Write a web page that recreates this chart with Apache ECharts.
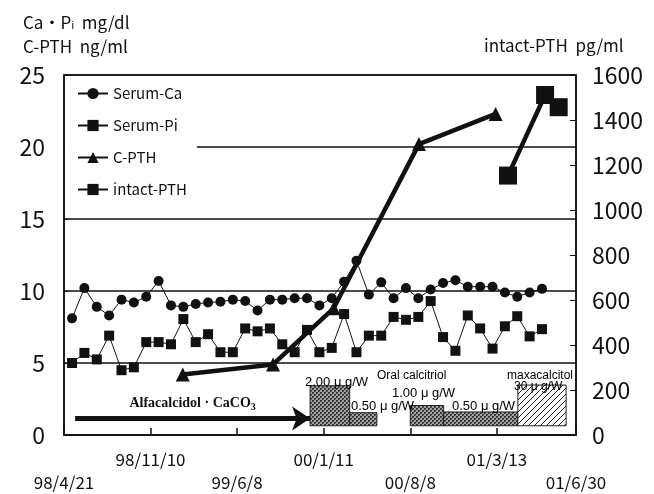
<!DOCTYPE html>
<html><head><meta charset="utf-8">
<script src="https://cdn.jsdelivr.net/npm/echarts@6/dist/echarts.min.js"></script>
<style>html,body{margin:0;padding:0;background:#fff}#c{width:654px;height:494px}</style>
</head><body><div id="c"></div>
<script>
// ---- data ----
const xTickLabels = ['98/4/21','98/11/10','99/6/8','00/1/11','00/8/8','01/3/13','01/6/30'];
const sampleOffset = 0.65;   // monthly samples sit inside each month slot
const serumCa = [8.1, 10.2, 8.9, 8.3, 9.4, 9.2, 9.6, 10.7, 9.0, 8.9, 9.1, 9.2, 9.25, 9.4, 9.3, 8.65, 9.4, 9.4, 9.5, 9.5,
                 9.0, 9.5, 10.65, 12.1, 9.75, 10.6, 9.5, 10.2, 9.5, 10.1, 10.55, 10.75, 10.3, 10.3, 10.3, 9.9, 9.6, 9.9, 10.15];
const serumPi = [5.0, 5.7, 5.25, 6.9, 4.5, 4.7, 6.45, 6.45, 6.3, 8.05, 6.45, 7.0, 5.75, 5.75, 7.4, 7.2, 7.4, 6.3, 5.75, 7.3,
                 5.75, 6.05, 8.4, 5.75, 6.9, 6.9, 8.2, 8.0, 8.2, 9.3, 6.8, 5.85, 8.3, 7.4, 6.0, 7.55, 8.25, 6.85, 7.35];
const cpthMonth = [9.6, 16.9, 21.8, 28.7, 34.9];
const cpthValue = [4.2, 4.9, 8.8, 20.2, 22.3];
const intactMonth = [35.9, 38.9, 40.0];
const intactValue = [1153, 1511, 1457];
// treatment blocks (x in months, top in left-axis units)
const doseStart = [19.9, 23.1, 28.0, 30.7, 36.7];
const doseEnd   = [23.1, 25.3, 30.7, 36.7, 40.6];
const doseTop   = [3.42, 1.55, 2.05, 1.6, 3.47];
const doseFill  = ['check', 'check', 'check', 'check', 'hatch'];
const doseBase  = 0.64;
const arrowFrom = 0.9, arrowTo = 19.9, arrowLevel = 1.14;

// ---- patterns ----
function checkPattern(){
  const c = document.createElement('canvas'); c.width = 4; c.height = 4;
  const g = c.getContext('2d');
  g.fillStyle = '#a0a0a0'; g.fillRect(0,0,4,4);
  g.fillStyle = '#333'; g.fillRect(0,0,2,2); g.fillRect(2,2,2,2);
  g.fillStyle = '#666'; g.fillRect(1,1,1,1); g.fillRect(3,3,1,1);
  return c;
}
function hatchPattern(){
  const c = document.createElement('canvas'); c.width = 6; c.height = 6;
  const g = c.getContext('2d');
  g.fillStyle = '#fff'; g.fillRect(0,0,6,6);
  g.strokeStyle = '#222'; g.lineWidth = 1;
  g.beginPath(); g.moveTo(-1,7); g.lineTo(7,-1); g.stroke();
  g.beginPath(); g.moveTo(-4,4); g.lineTo(4,-4); g.stroke();
  g.beginPath(); g.moveTo(2,10); g.lineTo(10,2); g.stroke();
  return c;
}
const fills = { check: { image: checkPattern(), repeat: 'repeat' }, hatch: { image: hatchPattern(), repeat: 'repeat' } };

const FONT = '"Noto Sans CJK JP", "Liberation Sans", sans-serif';
const INK = '#111';
function note(x, y, text, size) {
  return { type: 'text', x: x, y: y, z: 10,
    style: { text: text, font: size + 'px "Liberation Sans", Arial, sans-serif', fill: '#000', verticalAlign: 'middle' } };
}

const chart = echarts.init(document.getElementById('c'), null, { renderer: 'canvas' });
chart.setOption({
  animation: false,
  backgroundColor: '#fff',
  title: [
    { text: '{n|Ca・P}{s|i}{n|  mg/dl}\n{n|C-PTH  ng/ml}', left: 18, top: 6,
      textStyle: { fontWeight: 'normal', rich: {
        n: { fontSize: 17, fontWeight: 'normal', fontFamily: FONT, color: INK, lineHeight: 24 },
        s: { fontSize: 11, fontWeight: 'normal', fontFamily: FONT, color: INK, lineHeight: 24, padding: [4,0,0,0] } } } },
    { text: 'intact-PTH  pg/ml', left: 479, top: 32,
      textStyle: { fontSize: 17, fontWeight: 'normal', fontFamily: FONT, color: INK } }
  ],
  grid: { left: 64, right: 78, top: 75, bottom: 54, show: true, borderColor: INK, borderWidth: 1.5, backgroundColor: 'transparent' },
  legend: {
    data: ['Serum-Ca', 'Serum-Pi', 'C-PTH', 'intact-PTH'],
    orient: 'vertical', left: 65, top: 77,
    itemWidth: 30, itemHeight: 14, itemGap: 17,
    backgroundColor: '#fff', padding: [9, 10, 8, 12],
    textStyle: { fontSize: 15, fontFamily: FONT, color: INK }
  },
  xAxis: {
    type: 'value', min: 0, max: 41.4, interval: 7,
    axisLine: { show: true, lineStyle: { color: INK, width: 1.5 } },
    axisTick: { show: true, inside: true, length: 7, lineStyle: { color: INK, width: 1.5 } },
    splitLine: { show: false },
    axisLabel: {
      showMinLabel: true, showMaxLabel: true,
      fontSize: 17, fontFamily: FONT, color: INK, lineHeight: 23, margin: 13,
      formatter: function (v) {
        const k = Math.min(xTickLabels.length - 1, Math.round(v / 7));
        return k % 2 === 0 ? '\n' + xTickLabels[k] : xTickLabels[k];
      }
    }
  },
  yAxis: [
    { type: 'value', min: 0, max: 25, interval: 5,
      axisLine: { show: true, lineStyle: { color: INK, width: 1.5 } },
      axisTick: { show: true, inside: true, length: 4, lineStyle: { color: INK } },
      splitLine: { show: true, lineStyle: { color: INK, width: 1.5 } },
      axisLabel: { fontSize: 23, fontFamily: FONT, color: INK, margin: 19 } },
    { type: 'value', min: 0, max: 1600, interval: 200, position: 'right',
      axisLine: { show: true, lineStyle: { color: INK, width: 1.5 } },
      axisTick: { show: true, inside: true, length: 6, lineStyle: { color: INK } },
      splitLine: { show: false },
      axisLabel: { fontSize: 23, fontFamily: FONT, color: INK, margin: 16, formatter: function (v) { return String(v); } } }
  ],
  series: [
    { type: 'custom', name: 'dose', coordinateSystem: 'cartesian2d', clip: false, z: 1,
      data: doseStart.map((s, i) => [s, doseEnd[i], doseTop[i], i]),
      encode: { x: [0, 1], y: 2 },
      renderItem: function (params, api) {
        const p0 = api.coord([api.value(0), doseBase]);
        const p1 = api.coord([api.value(1), api.value(2)]);
        return { type: 'rect',
          shape: { x: p0[0], y: p1[1], width: p1[0] - p0[0], height: p0[1] - p1[1] },
          style: { fill: fills[doseFill[api.value(3)]], stroke: '#222', lineWidth: 1 } };
      },
      markLine: {
        silent: true, symbol: ['none', 'arrow'], symbolSize: 18,
        lineStyle: { color: INK, width: 5, type: 'solid' },
        label: { show: true, position: 'middle', distance: 6,
          formatter: '{t|Alfacalcidol · CaCO}{s|3}',
          rich: { t: { fontFamily: '"Liberation Serif", serif', fontWeight: 'bold', fontSize: 14, color: INK },
                  s: { fontFamily: '"Liberation Serif", serif', fontWeight: 'bold', fontSize: 10, color: INK, padding: [8, 0, 0, 0] } } },
        data: [[{ coord: [arrowFrom, arrowLevel] }, { coord: [arrowTo, arrowLevel] }]]
      }
    },
    { name: 'Serum-Ca', type: 'line', z: 3,
      data: serumCa.map((v, i) => [i + sampleOffset, v]),
      symbol: 'circle', symbolSize: 10, showAllSymbol: true,
      lineStyle: { color: INK, width: 1 }, itemStyle: { color: INK } },
    { name: 'Serum-Pi', type: 'line', z: 3,
      data: serumPi.map((v, i) => [i + sampleOffset, v]),
      symbol: 'rect', symbolSize: 10, showAllSymbol: true,
      lineStyle: { color: INK, width: 1 }, itemStyle: { color: INK } },
    { name: 'C-PTH', type: 'line', z: 4,
      data: cpthMonth.map((m, i) => [m, cpthValue[i]]),
      symbol: 'triangle', symbolSize: 14,
      lineStyle: { color: INK, width: 4.5 }, itemStyle: { color: INK } },
    { name: 'intact-PTH', type: 'line', yAxisIndex: 1, z: 4,
      data: intactMonth.map((m, i) => [m, intactValue[i]]),
      symbol: 'rect', symbolSize: 18,
      lineStyle: { color: INK, width: 4.5 }, itemStyle: { color: INK } }
  ],
  graphic: [
    note(305, 382, '2.00 μ g/W', 13),
    note(377, 376, 'Oral calcitriol', 12),
    note(351, 406, '0.50 μ g/W', 13),
    note(392, 393, '1.00 μ g/W', 13),
    note(452, 406, '0.50 μ g/W', 13),
    note(507, 376, 'maxacalcitol', 12),
    note(514, 387, '30 μ g/W', 12)
  ]
});
</script></body></html>
